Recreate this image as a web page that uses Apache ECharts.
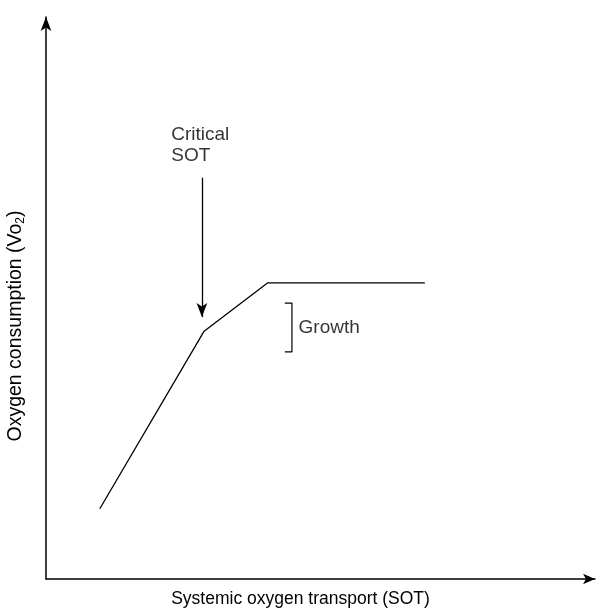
<!DOCTYPE html>
<html>
<head>
<meta charset="utf-8">
<script src="https://cdn.jsdelivr.net/npm/echarts@6/dist/echarts.min.js"></script>
<style>
html,body{margin:0;padding:0;background:#fff;}
#chart{width:602px;height:608px;}
</style>
</head>
<body>
<div id="chart"></div>
<script>
// Curve: systemic oxygen transport (x) vs oxygen consumption (y), arbitrary units 0-100
const curveX = [9.8, 28.8, 40.4, 69.0];
const curveY = [12.5, 44.1, 52.7, 52.7];
// Critical SOT pointer arrow (from, to)
const arrowX = [28.4, 28.4];
const arrowY = [71.4, 46.6];
// Growth bracket
const bracketX = [43.5, 44.8, 44.8, 43.5];
const bracketY = [49.1, 49.1, 40.4, 40.4];
// Annotation anchors
const criticalLabel = { x: 22.9, y: 80.9, text: 'Critical\nSOT' };
const growthLabel = { x: 46.1, y: 44.6, text: 'Growth' };
const xTitle = 'Systemic oxygen transport (SOT)';
const yTitle = 'Oxygen consumption (Vo{sub|2})';

const FONT = '"Liberation Sans", Arial, Helvetica, sans-serif';
const chart = echarts.init(document.getElementById('chart'));
chart.setOption({
  animation: false,
  backgroundColor: '#fff',
  grid: { left: 46, right: 7, top: 17, bottom: 29, containLabel: false, outerBoundsMode: 'none' },
  xAxis: {
    type: 'value', min: 0, max: 100,
    axisLine: { show: true, symbol: ['none', 'arrow'], symbolSize: [8, 12], lineStyle: { color: '#000', width: 1.5 } },
    axisTick: { show: false }, axisLabel: { show: false }, splitLine: { show: false },
    name: xTitle, nameLocation: 'middle', nameGap: 11,
    nameTextStyle: { fontFamily: FONT, fontSize: 17.5, color: '#000', padding: [0, 40, 0, 0] }
  },
  yAxis: {
    type: 'value', min: 0, max: 100,
    axisLine: { show: true, symbol: ['none', 'arrow'], symbolSize: [8, 14], lineStyle: { color: '#000', width: 1.5 } },
    axisTick: { show: false }, axisLabel: { show: false }, splitLine: { show: false },
    name: yTitle, nameLocation: 'middle', nameGap: 19,
    nameTextStyle: {
      fontFamily: FONT, fontSize: 19.5, color: '#000', padding: [0, 56, 0, 0],
      rich: { sub: { fontFamily: FONT, fontSize: 12, color: '#000', padding: [11, 0, 0, 0] } }
    }
  },
  series: [
    {
      type: 'line',
      data: curveX.map((x, i) => [x, curveY[i]]),
      symbol: 'none',
      lineStyle: { color: '#000', width: 1.3 },
      silent: true,
      markLine: {
        silent: true,
        symbol: ['none', 'arrow'],
        symbolSize: [8, 14],
        label: { show: false },
        lineStyle: { color: '#000', width: 1.3, type: 'solid' },
        data: [[{ coord: [arrowX[0], arrowY[0]] }, { coord: [arrowX[1], arrowY[1]] }]]
      }
    },
    {
      type: 'line',
      data: bracketX.map((x, i) => [x, bracketY[i]]),
      symbol: 'none',
      lineStyle: { color: '#000', width: 1.2 },
      silent: true
    },
    {
      type: 'scatter',
      symbolSize: 1,
      itemStyle: { color: 'rgba(0,0,0,0)' },
      silent: true,
      data: [
        { value: [criticalLabel.x, criticalLabel.y], label: { show: true, formatter: criticalLabel.text, position: [0, 0], align: 'left', verticalAlign: 'top', lineHeight: 21 } },
        { value: [growthLabel.x, growthLabel.y], label: { show: true, formatter: growthLabel.text, position: [0, 0], align: 'left', verticalAlign: 'middle' } }
      ],
      label: { fontFamily: FONT, fontSize: 19, color: '#000' }
    }
  ]
});
</script>
</body>
</html>
